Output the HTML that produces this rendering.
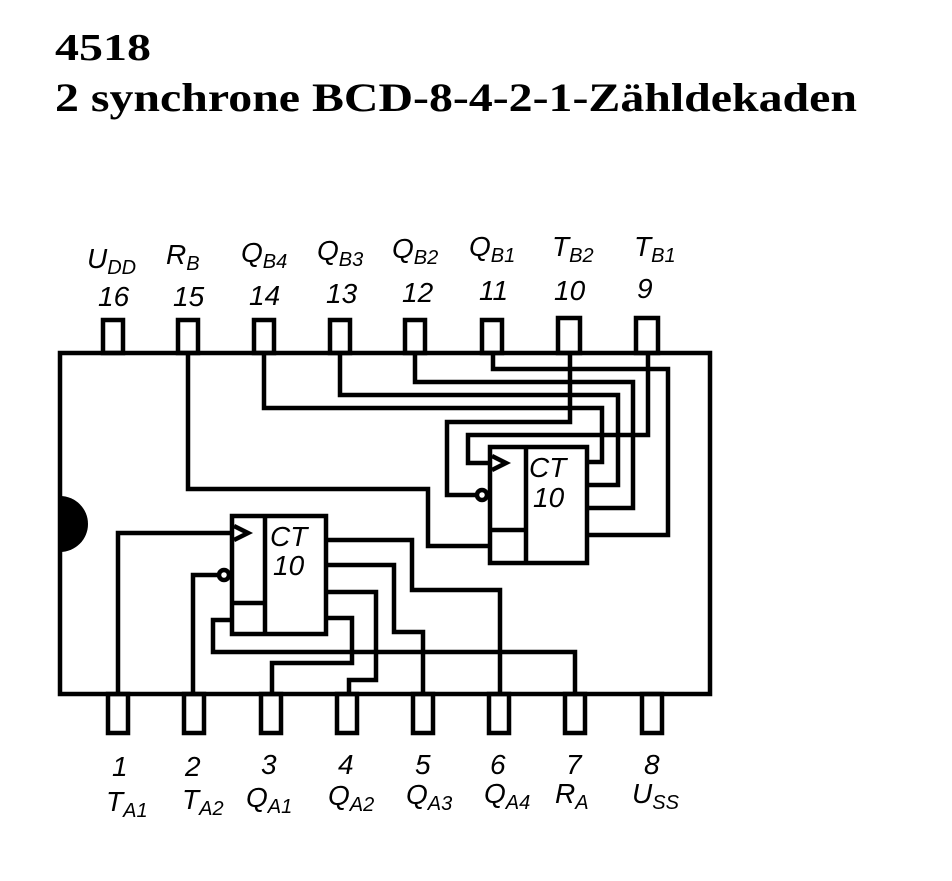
<!DOCTYPE html>
<html><head><meta charset="utf-8"><style>
html,body{margin:0;padding:0;background:#fff;}
svg{display:block;}
.t{font-family:"Liberation Serif",serif;fill:#000;}
.l{font-family:"Liberation Sans",sans-serif;font-style:italic;fill:#000;font-size:28px;}
.s{font-size:20px;}
</style></head><body>
<svg width="952" height="881" viewBox="0 0 952 881" xmlns="http://www.w3.org/2000/svg">
<text class="t" x="55" y="60" font-size="38" font-weight="bold" textLength="96" lengthAdjust="spacingAndGlyphs">4518</text>
<text class="t" x="55" y="111" font-size="40" font-weight="bold" textLength="802" lengthAdjust="spacingAndGlyphs">2 synchrone BCD-8-4-2-1-Zähldekaden</text>

<g fill="none" stroke="#000" stroke-width="4.5">
<rect x="60" y="353" width="650" height="341"/>
<g>
<rect x="103" y="320" width="20" height="33"/>
<rect x="178" y="320" width="20" height="33"/>
<rect x="254" y="320" width="20" height="33"/>
<rect x="330" y="320" width="20" height="33"/>
<rect x="405" y="320" width="20" height="33"/>
<rect x="482" y="320" width="20" height="33"/>
<rect x="558" y="318" width="22" height="35"/>
<rect x="636" y="318" width="22" height="35"/>
</g>
<g>
<rect x="108" y="694" width="20" height="39"/>
<rect x="184" y="694" width="20" height="39"/>
<rect x="261" y="694" width="20" height="39"/>
<rect x="337" y="694" width="20" height="39"/>
<rect x="413" y="694" width="20" height="39"/>
<rect x="489" y="694" width="20" height="39"/>
<rect x="565" y="694" width="20" height="39"/>
<rect x="642" y="694" width="20" height="39"/>
</g>

<rect x="232" y="516" width="94" height="118"/>
<line x1="265" y1="516" x2="265" y2="634"/>
<line x1="232" y1="603" x2="265" y2="603"/>
<polyline points="234,526 248,533 234,540"/>
<polyline points="118,694 118,533 232,533"/>
<polyline points="193,694 193,575 218,575"/>
<circle cx="224" cy="575" r="5"/>
<polyline points="326,540 412,540 412,590 500,590 500,694"/>
<polyline points="326,565 394,565 394,632 423,632 423,694"/>
<polyline points="326,592 376,592 376,680 349,680 349,694"/>
<polyline points="326,618 352,618 352,663 272,663 272,694"/>
<polyline points="232,620 213,620 213,652 575,652 575,694"/>

<rect x="490" y="447" width="97" height="116"/>
<line x1="526" y1="447" x2="526" y2="563"/>
<line x1="490" y1="530" x2="526" y2="530"/>
<polyline points="492,456 506,463 492,470"/>
<polyline points="490,463 468,463 468,435 648,435 648,353"/>
<polyline points="476,495 447,495 447,422 570,422 570,353"/>
<circle cx="482" cy="495" r="5"/>
<polyline points="587,462 602,462 602,408 264,408 264,353"/>
<polyline points="587,485 618,485 618,395 340,395 340,353"/>
<polyline points="587,508 633,508 633,382 415,382 415,353"/>
<polyline points="587,535 668,535 668,369 493,369 493,353"/>
<polyline points="188,353 188,489 428,489 428,546 490,546"/>
</g>
<path d="M60,496 A28,28 0 0 1 60,552 Z" fill="#000"/>

<text class="l" x="270" y="546" font-size="24">CT</text>
<text class="l" x="273" y="575" font-size="24">10</text>
<text class="l" x="529" y="477" font-size="24">CT</text>
<text class="l" x="533" y="507" font-size="24">10</text>

<g class="l">
<text x="87" y="268">U<tspan class="s" dy="6">DD</tspan></text>
<text x="166" y="264">R<tspan class="s" dy="6">B</tspan></text>
<text x="241" y="262">Q<tspan class="s" dy="6">B4</tspan></text>
<text x="317" y="260">Q<tspan class="s" dy="6">B3</tspan></text>
<text x="392" y="258">Q<tspan class="s" dy="6">B2</tspan></text>
<text x="469" y="256">Q<tspan class="s" dy="6">B1</tspan></text>
<text x="552" y="256">T<tspan class="s" dy="6">B2</tspan></text>
<text x="634" y="256">T<tspan class="s" dy="6">B1</tspan></text>
<text x="98" y="306">16</text>
<text x="173" y="306">15</text>
<text x="249" y="305">14</text>
<text x="326" y="303">13</text>
<text x="402" y="302">12</text>
<text x="479" y="300">11</text>
<text x="554" y="300">10</text>
<text x="637" y="298">9</text>
</g>
<g class="l">
<text x="112" y="776">1</text>
<text x="185" y="776">2</text>
<text x="261" y="774">3</text>
<text x="338" y="774">4</text>
<text x="415" y="774">5</text>
<text x="490" y="774">6</text>
<text x="566" y="774">7</text>
<text x="644" y="774">8</text>
<text x="106" y="811">T<tspan class="s" dy="6">A1</tspan></text>
<text x="182" y="809">T<tspan class="s" dy="6">A2</tspan></text>
<text x="246" y="807">Q<tspan class="s" dy="6">A1</tspan></text>
<text x="328" y="805">Q<tspan class="s" dy="6">A2</tspan></text>
<text x="406" y="804">Q<tspan class="s" dy="6">A3</tspan></text>
<text x="484" y="803">Q<tspan class="s" dy="6">A4</tspan></text>
<text x="555" y="803">R<tspan class="s" dy="6">A</tspan></text>
<text x="632" y="803">U<tspan class="s" dy="6">SS</tspan></text>
</g>
</svg>
</body></html>
